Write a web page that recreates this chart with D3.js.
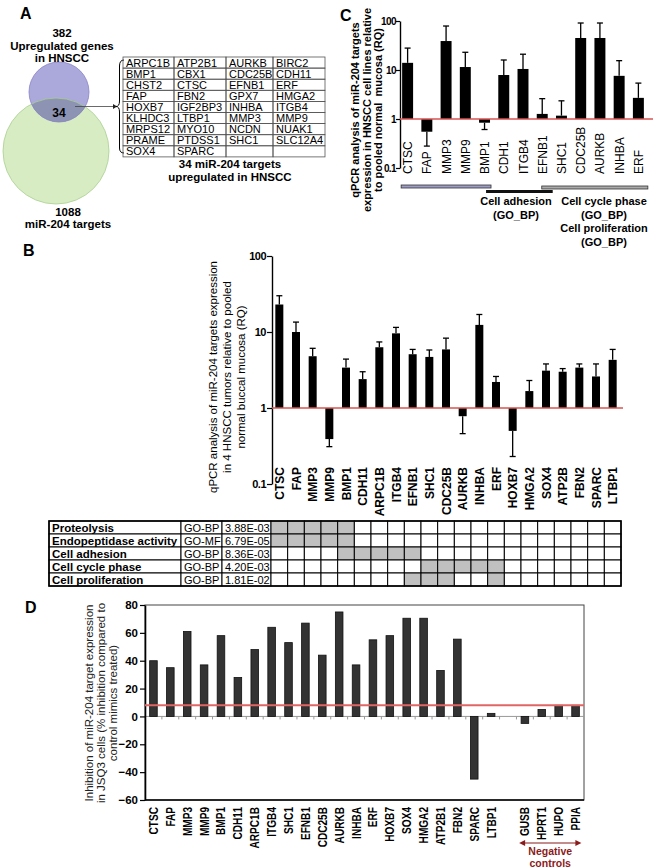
<!DOCTYPE html>
<html><head><meta charset="utf-8">
<script src="https://cdn.jsdelivr.net/npm/d3@7"></script>
<style>body{margin:0;background:#fff}svg{display:block;font-family:"Liberation Sans",Arial,sans-serif}</style>
</head><body>
<script>
// ---------- DATA ----------
const vennUpCount = 382, vennTargetCount = 1088, vennOverlapCount = 34;
const geneTableRows = [
  ["ARPC1B","ATP2B1","AURKB","BIRC2"],
  ["BMP1","CBX1","CDC25B","CDH11"],
  ["CHST2","CTSC","EFNB1","ERF"],
  ["FAP","FBN2","GPX7","HMGA2"],
  ["HOXB7","IGF2BP3","INHBA","ITGB4"],
  ["KLHDC3","LTBP1","MMP3","MMP9"],
  ["MRPS12","MYO10","NCDN","NUAK1"],
  ["PRAME","PTDSS1","SHC1","SLC12A4"],
  ["SOX4","SPARC","",""]
];

const catsC = ["CTSC","FAP","MMP3","MMP9","BMP1","CDH1","ITGB4","EFNB1","SHC1","CDC25B","AURKB","INHBA","ERF"];
const valsC = [14, 0.55, 39, 11.5, 0.84, 7.9, 10.5, 1.27, 1.17, 45, 45, 7.6, 2.7];
const errC  = [28, 0.28, 79, 23, 0.61, 16, 21, 2.6, 2.35, 91, 91, 15.5, 5.4];
const tickLabelsLog = [0.1, 1, 10, 100];

const catsB = ["CTSC","FAP","MMP3","MMP9","BMP1","CDH11","ARPC1B","ITGB4","EFNB1","SHC1","CDC25B","AURKB","INHBA","ERF","HOXB7","HMGA2","SOX4","ATP2B","FBN2","SPARC","LTBP1"];
const valsB = [23, 10, 4.8, 0.39, 3.4, 2.4, 6.3, 9.6, 5.1, 4.7, 5.9, 0.78, 12.4, 2.2, 0.5, 1.67, 3.1, 3.0, 3.4, 2.6, 4.3];
const errB  = [30, 13.5, 6.1, 0.31, 4.4, 3.0, 7.4, 11.5, 5.9, 5.8, 8.3, 0.46, 17, 2.6, 0.23, 2.3, 3.8, 3.3, 3.8, 3.8, 5.9];

const goTerms = ["Proteolysis","Endopeptidase activity","Cell adhesion","Cell cycle phase","Cell proliferation"];
const goTypes = ["GO-BP","GO-MF","GO-BP","GO-BP","GO-BP"];
const goPvals = ["3.88E-03","6.79E-05","8.36E-03","4.20E-03","1.81E-02"];
const goGenes = [
  ["CTSC","FAP","MMP3","MMP9","BMP1"],
  ["CTSC","FAP","MMP3","MMP9","BMP1"],
  ["BMP1","CDH11","ARPC1B","ITGB4","EFNB1"],
  ["SHC1","CDC25B","AURKB","INHBA","ERF"],
  ["EFNB1","SHC1","CDC25B","ERF"]
];

const catsD = ["CTSC","FAP","MMP3","MMP9","BMP1","CDH11","ARPC1B","ITGB4","SHC1","EFNB1","CDC25B","AURKB","INHBA","ERF","HOXB7","SOX4","HMGA2","ATP2B1","FBN2","SPARC","LTBP1","gap","GUSB","HPRT1","HUPO","PPIA"];
const valsD = [40, 35, 61, 37, 58, 28, 48, 64, 53, 67, 44, 75, 37, 55, 58, 70.5, 70.5, 33, 55.5, -45, 2.2, null, -5, 5, 8, 8];
const thresholdD = 8;
const ticksD = [-60,-40,-20,0,20,40,60,80];
const negControls = ["GUSB","HPRT1","HUPO","PPIA"];

// ---------- HELPERS ----------
const svg = d3.select("body").append("svg").attr("width",656).attr("height",868);
function txt(g, x, y, s, o={}) {
  return g.append("text").attr("x",x).attr("y",y).text(s)
    .attr("font-size", o.size||11).attr("font-weight", o.bold?"bold":"normal")
    .attr("text-anchor", o.anchor||"start").attr("fill", o.fill||"#000");
}
function rotText(g, x, y, s, o={}) {
  return g.append("text").attr("transform",`translate(${x},${y}) rotate(-90)` + (o.sx?` scale(${o.sx},1)`:""))
    .text(s).attr("font-size", o.size||11).attr("font-weight", o.bold?"bold":"normal")
    .attr("text-anchor", o.anchor||"middle").attr("fill", o.fill||"#000");
}
const RED = "#d9534f";

// panel letters
[["A",20,19],["B",23,256],["C",340,21],["D",25,613]].forEach(([l,x,y])=>txt(svg,x,y,l,{size:16,bold:true}));

// ---------- PANEL A ----------
const gA = svg.append("g");
const defs = svg.append("defs");
defs.append("clipPath").attr("id","greenClip").append("circle").attr("cx",56).attr("cy",151).attr("r",53);
gA.append("circle").attr("cx",56).attr("cy",151).attr("r",53).attr("fill","#d8ecc4");
gA.append("circle").attr("cx",59).attr("cy",92).attr("r",30).attr("fill","#aba9dc");
gA.append("circle").attr("cx",59).attr("cy",92).attr("r",30).attr("fill","#8d93b3").attr("clip-path","url(#greenClip)");
gA.append("circle").attr("cx",56).attr("cy",151).attr("r",53).attr("fill","none").attr("stroke","#a9cf90").attr("stroke-width",0.8);
gA.append("circle").attr("cx",59).attr("cy",92).attr("r",30).attr("fill","none").attr("stroke","#8884c4").attr("stroke-width",0.8);
txt(gA,59,117,String(vennOverlapCount),{size:12,bold:true,anchor:"middle"});
txt(gA,62,37,String(vennUpCount),{size:11.5,bold:true,anchor:"middle"});
txt(gA,62,50,"Upregulated genes",{size:11.5,bold:true,anchor:"middle"});
txt(gA,62,62,"in HNSCC",{size:11.5,bold:true,anchor:"middle"});
txt(gA,68,216,String(vennTargetCount),{size:11.5,bold:true,anchor:"middle"});
txt(gA,68,228,"miR-204 targets",{size:11.5,bold:true,anchor:"middle"});
gA.append("line").attr("x1",75).attr("y1",106.5).attr("x2",113).attr("y2",106.5).attr("stroke","#444").attr("stroke-width",0.8);
gA.append("path").attr("d","M113,104 L117,106.5 L113,109 Z").attr("fill","#222");
gA.append("path").attr("d","M124,60 Q119.5,60 119.5,66 L119.5,101 Q119.5,106.5 116,106.5 Q119.5,106.5 119.5,112 L119.5,148 Q119.5,153 124,153")
  .attr("fill","none").attr("stroke","#000").attr("stroke-width",1);
const colX = [123,174,226,273,325], rowTop = 57, rowH = 11.1;
geneTableRows.forEach((row,i)=>{
  row.forEach((g,j)=>{
    gA.append("rect").attr("x",colX[j]).attr("y",rowTop+i*rowH).attr("width",colX[j+1]-colX[j]).attr("height",rowH)
      .attr("fill","none").attr("stroke","#555").attr("stroke-width",0.8);
    if (g) txt(gA,colX[j]+3,rowTop+i*rowH+9.5,g,{size:11});
  });
});
txt(gA,230,168,"34 miR-204 targets",{size:11.5,bold:true,anchor:"middle"});
txt(gA,230,181,"upregulated in HNSCC",{size:11.5,bold:true,anchor:"middle"});

// ---------- generic error bar drawing ----------
function drawBarsLog(g, cats, vals, errs, x, y, capW) {
  const bw = x.bandwidth();
  cats.forEach((c,i)=>{
    const v = vals[i], cx = x(c)+bw/2;
    g.append("line").attr("x1",cx).attr("x2",cx).attr("y1",y(v)).attr("y2",y(errs[i])).attr("stroke","#000").attr("stroke-width",1.3);
    g.append("line").attr("x1",cx-capW/2).attr("x2",cx+capW/2).attr("y1",y(errs[i])).attr("y2",y(errs[i])).attr("stroke","#000").attr("stroke-width",1.3);
    g.append("rect").attr("x",x(c)).attr("width",bw).attr("y",y(Math.max(v,1))).attr("height",Math.abs(y(v)-y(1))).attr("fill","#000");
  });
}

// ---------- PANEL C ----------
const gC = svg.append("g");
const xC = d3.scaleBand().domain(catsC).range([398,648]).paddingInner(0.43).paddingOuter(0.215);
const yC = d3.scaleLog().domain([0.1,100]).range([168,21]);
const axC = gC.append("g").attr("transform","translate(400,0)")
  .call(d3.axisLeft(yC).tickValues(tickLabelsLog).tickFormat(d=>String(d)).tickSize(4).tickSizeOuter(0));
axC.select(".domain").attr("stroke-width",1.4);
axC.selectAll(".tick line").attr("stroke-width",1.2);
axC.selectAll(".tick text").attr("font-size",10).attr("font-weight","bold").attr("letter-spacing",-0.6).attr("x",-4);
axC.attr("font-family",null);
drawBarsLog(gC, catsC, valsC, errC, xC, yC, 6);
gC.append("line").attr("x1",400).attr("x2",653).attr("y1",yC(1)).attr("y2",yC(1)).attr("stroke",RED).attr("stroke-width",1.6);
catsC.forEach(c=>rotText(gC, xC(c)+xC.bandwidth()/2+4.5, 174, c, {size:12, anchor:"start"}));
const bwC = xC.bandwidth();
gC.append("rect").attr("x",xC("CTSC")-1).attr("y",185).attr("width",xC("BMP1")+bwC+2-xC("CTSC")).attr("height",3).attr("fill","#9c9cc4").attr("stroke","#333").attr("stroke-width",0.8);
gC.append("rect").attr("x",xC("BMP1")+7).attr("y",190).attr("width",xC("EFNB1")+bwC+5-xC("BMP1")-7).attr("height",3).attr("fill","#111");
gC.append("rect").attr("x",xC("EFNB1")+5).attr("y",186).attr("width",xC("ERF")+bwC+4-xC("EFNB1")-5).attr("height",3).attr("fill","#aaa").attr("stroke","#333").attr("stroke-width",0.8);
txt(gC,516,205,"Cell adhesion",{size:11,bold:true,anchor:"middle"});
txt(gC,516,219,"(GO_BP)",{size:11,bold:true,anchor:"middle"});
txt(gC,604,205,"Cell cycle phase",{size:11,bold:true,anchor:"middle"});
txt(gC,604,219,"(GO_BP)",{size:11,bold:true,anchor:"middle"});
txt(gC,604,232,"Cell proliferation",{size:11,bold:true,anchor:"middle"});
txt(gC,604,246,"(GO_BP)",{size:11,bold:true,anchor:"middle"});
rotText(gC,359,110,"qPCR analysis of miR-204 targets",{size:11,bold:true});
rotText(gC,371,110,"expression in HNSCC cell lines relative",{size:11,bold:true});
rotText(gC,382,110,"to pooled normal  mucosa (RQ)",{size:11,bold:true}).attr("xml:space","preserve");

// ---------- PANEL B ----------
const gB = svg.append("g");
const xB = d3.scaleBand().domain(catsB).range([271,621]).paddingInner(0.52).paddingOuter(0.26);
const yB = d3.scaleLog().domain([0.1,100]).range([484,256]);
const axB = gB.append("g").attr("transform","translate(272,0)")
  .call(d3.axisLeft(yB).tickValues(tickLabelsLog).tickFormat(d=>String(d)).tickSize(5).tickSizeOuter(0));
axB.attr("font-family",null);
axB.select(".domain").attr("stroke-width",1.4);
axB.selectAll(".tick line").attr("stroke-width",1.2);
axB.selectAll(".tick text").attr("font-size",11).attr("font-weight","bold").attr("letter-spacing",-0.5).attr("x",-6);
drawBarsLog(gB, catsB, valsB, errB, xB, yB, 6);
gB.append("line").attr("x1",272).attr("x2",623).attr("y1",yB(1)).attr("y2",yB(1)).attr("stroke",RED).attr("stroke-width",1.6);
catsB.forEach(c=>rotText(gB, xB(c)+xB.bandwidth()/2+4.5, 467, c, {size:12, bold:true, anchor:"end"}));
rotText(gB,217,377,"qPCR analysis of miR-204 targets expression",{size:11.5});
rotText(gB,231,377,"in 4 HNSCC tumors relative to pooled",{size:11.5});
rotText(gB,245,377,"normal buccal mucosa (RQ)",{size:11.5});

// table
const tTop = 521, tRowH = 13, tCols = [49,181,222,271];
const cellW = xB.step();
goTerms.forEach((term,i)=>{
  const y0 = tTop + i*tRowH;
  const cells = [[tCols[0],tCols[1]],[tCols[1],tCols[2]],[tCols[2],tCols[3]]];
  cells.forEach(([a,b])=>gB.append("rect").attr("x",a).attr("y",y0).attr("width",b-a).attr("height",tRowH).attr("fill","#fff").attr("stroke","#000").attr("stroke-width",1));
  txt(gB,52,y0+10.5,term,{size:11.5,bold:true});
  txt(gB,184,y0+10.5,goTypes[i],{size:11});
  txt(gB,225,y0+10.5,goPvals[i],{size:11});
  catsB.forEach(c=>{
    const x0 = xB(c) - xB.step()*xB.paddingInner()/2;
    gB.append("rect").attr("x",x0).attr("y",y0).attr("width",cellW).attr("height",tRowH)
      .attr("fill", goGenes[i].includes(c) ? "#c0c0c0" : "#fff").attr("stroke","#000").attr("stroke-width",1);
  });
});
gB.append("rect").attr("x",49).attr("y",tTop).attr("width",621-49).attr("height",tRowH*5).attr("fill","none").attr("stroke","#000").attr("stroke-width",1.6);

// ---------- PANEL D ----------
const gD = svg.append("g");
const xD = d3.scaleBand().domain(catsD).range([145,584]).paddingInner(0.55).paddingOuter(0.275);
const yD = d3.scaleLinear().domain([-60,80]).range([800,605]);
gD.append("rect").attr("x",145).attr("y",605).attr("width",439).attr("height",195).attr("fill","none").attr("stroke","#444").attr("stroke-width",1);
gD.append("line").attr("x1",145).attr("x2",584).attr("y1",yD(0)).attr("y2",yD(0)).attr("stroke","#999").attr("stroke-width",1);
for (let i=1;i<catsD.length;i++){
  const xx = 145 + xD.step()*i;
  gD.append("line").attr("x1",xx).attr("x2",xx).attr("y1",yD(0)).attr("y2",yD(0)+3).attr("stroke","#999").attr("stroke-width",1);
}
const axD = gD.append("g").attr("transform","translate(145,0)")
  .call(d3.axisLeft(yD).tickValues(ticksD).tickFormat(d3.format("d")).tickSize(5).tickSizeOuter(0));
axD.attr("font-family",null);
axD.select(".domain").attr("stroke-width",1.6);
axD.selectAll(".tick line").attr("stroke-width",1.2);
axD.selectAll(".tick text").attr("font-size",11.5).attr("font-weight","bold").attr("x",-7);
gD.append("line").attr("x1",145).attr("x2",584).attr("y1",800).attr("y2",800).attr("stroke","#000").attr("stroke-width",1.6);
catsD.forEach((c,i)=>{
  const v = valsD[i];
  if (v===null) return;
  gD.append("rect").attr("x",xD(c)).attr("width",xD.bandwidth()).attr("y",yD(Math.max(v,0))).attr("height",Math.abs(yD(v)-yD(0)))
    .attr("fill","#333").attr("stroke","#111").attr("stroke-width",0.8);
});
gD.append("line").attr("x1",145).attr("x2",584).attr("y1",yD(thresholdD)).attr("y2",yD(thresholdD)).attr("stroke","#e06666").attr("stroke-width",2);
catsD.forEach(c=>{ if (c!=="gap") rotText(gD, xD(c)+xD.bandwidth()/2+4.5, 807, c, {size:12, bold:true, anchor:"end", sx:0.84}); });
rotText(gD,93,703,"Inhibition of miR-204 target expression",{size:11.5,fill:"#222"});
rotText(gD,105,703,"in JSQ3 cells (% inhibition compared to",{size:11.5,fill:"#222"});
rotText(gD,117,703,"control mimics treated)",{size:11.5,fill:"#222"});
const nc0 = xD(negControls[0]) - 2, nc1 = xD(negControls[negControls.length-1]) + xD.bandwidth() + 2;
const DR = "#8b1a1a";
gD.append("line").attr("x1",nc0+4).attr("x2",nc1-4).attr("y1",843).attr("y2",843).attr("stroke",DR).attr("stroke-width",1.2);
gD.append("path").attr("d",`M${nc0},843 L${nc0+6},840 L${nc0+6},846 Z`).attr("fill",DR);
gD.append("path").attr("d",`M${nc1},843 L${nc1-6},840 L${nc1-6},846 Z`).attr("fill",DR);
txt(gD,(nc0+nc1)/2,855,"Negative",{size:10.5,bold:true,anchor:"middle",fill:DR});
txt(gD,(nc0+nc1)/2,866.5,"controls",{size:10.5,bold:true,anchor:"middle",fill:DR});
</script>
</body></html>
